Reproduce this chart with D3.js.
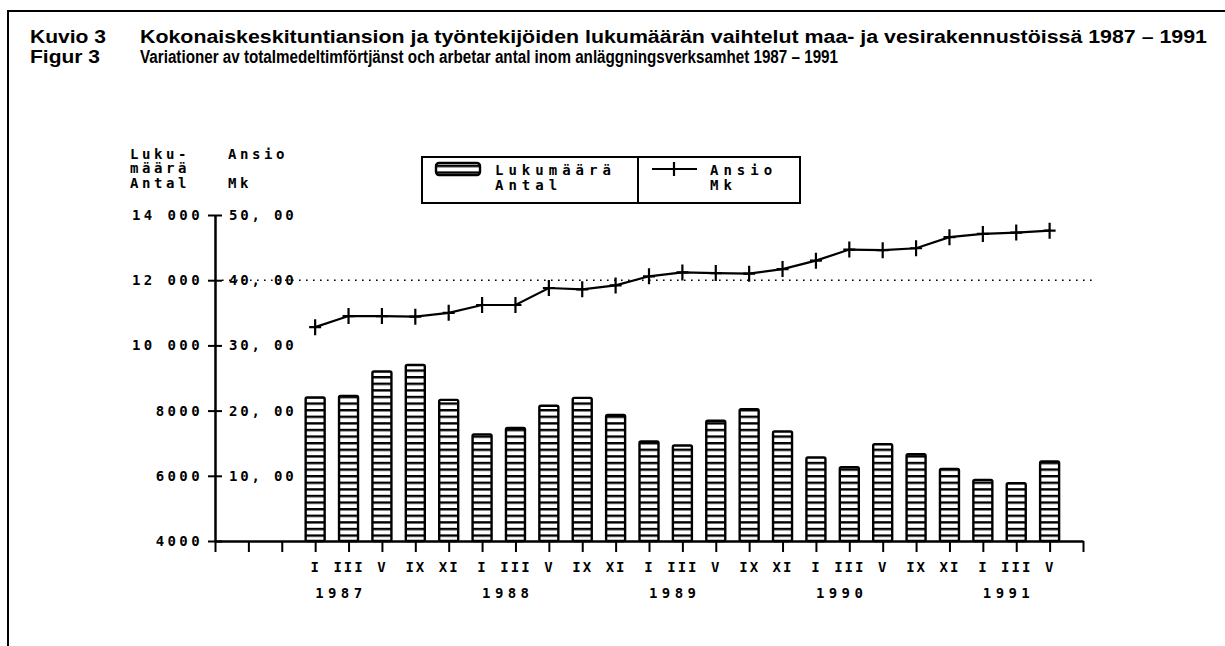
<!DOCTYPE html>
<html><head><meta charset="utf-8">
<script src="https://cdn.jsdelivr.net/npm/d3@7"></script>
<style>body{margin:0;background:#fff;overflow:hidden}</style>
</head><body>
<script>
// ---- data ----
const periods = ["I","III","V","IX","XI","I","III","V","IX","XI","I","III","V","IX","XI","I","III","V","IX","XI","I","III","V"];
const years = ["1987","1988","1989","1990","1991"];
const lukumaara = [8400,8450,9200,9400,8330,7270,7470,8150,8390,7870,7050,6930,7690,8040,7360,6560,6260,6970,6660,6210,5870,5770,6440];
const ansio = [32.8,34.5,34.5,34.4,35.0,36.2,36.2,38.8,38.6,39.2,40.6,41.2,41.1,41.0,41.7,43.0,44.7,44.6,44.9,46.6,47.1,47.3,47.6];
const leftTicks = [4000,6000,8000,10000,12000,14000];
const leftTickLabels = ["4000","6000","8000","10 000","12 000","14 000"];
const rightTicks = [0,10,20,30,40,50];
const rightTickLabels = ["","10, 00","20, 00","30, 00","40, 00","50, 00"];
const titleFi = "Kokonaiskeskituntiansion ja työntekijöiden lukumäärän vaihtelut maa- ja vesirakennustöissä 1987 – 1991";
const titleSv = "Variationer av totalmedeltimförtjänst och arbetar antal inom anläggningsverksamhet 1987 – 1991";

const W = 1225, H = 646;
const mono = "'DejaVu Sans Mono', 'Liberation Mono', monospace";
const svg = d3.select("body").append("svg").attr("width", W).attr("height", H);

// frame
svg.append("path").attr("d", `M8,${H}V11H${W}`).attr("fill","none").attr("stroke","#000").attr("stroke-width",2);

// titles
const tf = "'Liberation Sans Narrow','Liberation Sans', Arial, sans-serif";
function tline(txt, x, y, len){
  const t = svg.append("text").attr("x",x).attr("y",y).text(txt)
    .attr("font-family",tf).attr("font-weight","bold").attr("font-size",18);
  if (len) t.attr("textLength",len).attr("lengthAdjust","spacingAndGlyphs");
}
tline("Kuvio 3", 30, 43, 76);
tline(titleFi, 140, 43, 1067);
tline("Figur 3", 30, 63, 70);
tline(titleSv, 140, 63, 698);

// scales
const keys = ["b0","b1","b2"].concat(periods.map((p,i)=>"p"+i)).concat(["end"]);
const x = d3.scalePoint().domain(keys).range([215, 1083]);
const y = d3.scaleLinear().domain([4000,14000]).range([541, 215]);
const y2 = d3.scaleLinear().domain([0,50]).range([541, 215]);

// hatch pattern
const defs = svg.append("defs");
const pat = defs.append("pattern").attr("id","hatch").attr("patternUnits","userSpaceOnUse")
  .attr("width",40).attr("height",6.6).attr("y",541);
pat.append("rect").attr("width",40).attr("height",6.6).attr("fill","#fff");
pat.append("rect").attr("y",0).attr("width",40).attr("height",2.4).attr("fill","#000");

// dotted reference line at 12 000
svg.append("line").attr("x1",222).attr("x2",1092).attr("y1",y(12000)).attr("y2",y(12000))
  .attr("stroke","#000").attr("stroke-width",1.6).attr("stroke-dasharray","1.6 5.4");

// bars
const bw = 19;
svg.append("g").selectAll("rect").data(lukumaara).join("rect")
  .attr("x",(d,i)=>x("p"+i)-bw/2).attr("width",bw)
  .attr("y",d=>y(d)).attr("height",d=>y(4000)-y(d))
  .attr("rx",1.5)
  .attr("fill","url(#hatch)").attr("stroke","#000").attr("stroke-width",2.4);

// left axis (ticks to the left)
const gl = svg.append("g").attr("transform","translate(215,0)")
  .call(d3.axisLeft(y).tickValues(leftTicks).tickSizeInner(7).tickSizeOuter(0).tickPadding(5)
    .tickFormat((d,i)=>leftTickLabels[i]));
gl.select(".domain").attr("stroke-width",2.5);
gl.selectAll(".tick line").attr("stroke-width",2);
gl.selectAll("text").attr("font-family",mono).attr("font-weight","bold").attr("font-size",14)
  .attr("letter-spacing","3.4px").attr("fill","#000");

// right labels (Ansio) on same axis line
const gr = svg.append("g").attr("transform","translate(215,0)")
  .call(d3.axisRight(y2).tickValues(rightTicks).tickSizeInner(7).tickSizeOuter(0).tickPadding(7)
    .tickFormat((d,i)=>rightTickLabels[i]));
gr.select(".domain").remove();
gr.selectAll(".tick line").attr("stroke-width",2);
gr.selectAll("text").attr("font-family",mono).attr("font-weight","bold").attr("font-size",14)
  .attr("letter-spacing","2.8px").attr("fill","#000");

// x axis
const gx = svg.append("g").attr("transform","translate(0,541)")
  .call(d3.axisBottom(x).tickSizeInner(11).tickSizeOuter(0).tickPadding(10)
    .tickFormat(k => k.startsWith("p") ? periods[+k.slice(1)] : ""));
gx.select(".domain").attr("stroke-width",2.5);
gx.selectAll(".tick line").attr("stroke-width",2);
gx.selectAll("text").attr("font-family",mono).attr("font-weight","bold").attr("font-size",14)
  .attr("letter-spacing","2px").attr("fill","#000");

// year labels
const yearStart = periods.map((p,i)=>p==="I"?i:-1).filter(i=>i>=0);
svg.append("g").selectAll("text").data(years).join("text")
  .attr("x",(d,i)=>x("p"+yearStart[i])).attr("y",598).text(d=>d)
  .attr("font-family",mono).attr("font-weight","bold").attr("font-size",14)
  .attr("letter-spacing","4.4px");

// line + markers
const line = d3.line().x((d,i)=>x("p"+i)).y(d=>y2(d));
svg.append("path").datum(ansio).attr("d",line).attr("fill","none").attr("stroke","#000").attr("stroke-width",2.2);
svg.append("g").selectAll("path").data(ansio).join("path")
  .attr("d",(d,i)=>{const cx=x("p"+i), cy=y2(d); return `M${cx},${cy-8}V${cy+8}M${cx-6},${cy}H${cx+6}`;})
  .attr("stroke","#000").attr("stroke-width",2.2);

// axis header labels
function lab(txt, xx, yy, ls){
  svg.append("text").attr("x",xx).attr("y",yy).text(txt)
    .attr("font-family",mono).attr("font-weight","bold").attr("font-size",14)
    .attr("letter-spacing",(ls||3.6)+"px");
}
lab("Luku-",130,159);
lab("määrä",130,173);
lab("Antal",130,188);
lab("Ansio",228,159);
lab("Mk",228,188);

// legend
svg.append("rect").attr("x",422).attr("y",157).attr("width",378).attr("height",46)
  .attr("fill","#fff").attr("stroke","#000").attr("stroke-width",2);
svg.append("line").attr("x1",638).attr("x2",638).attr("y1",157).attr("y2",203)
  .attr("stroke","#000").attr("stroke-width",2);
svg.append("rect").attr("x",436).attr("y",163).attr("width",44).attr("height",12).attr("rx",3)
  .attr("fill","url(#hatch)").attr("stroke","#000").attr("stroke-width",2.4);
svg.append("path").attr("d","M652,169H697M674,162V176").attr("stroke","#000").attr("stroke-width",2.2);
function leg(txt, xx, yy){
  svg.append("text").attr("x",xx).attr("y",yy).text(txt)
    .attr("font-family",mono).attr("font-size",14).attr("font-weight","bold")
    .attr("letter-spacing","5px");
}
leg("Lukumäärä",495,175);
leg("Antal",495,190);
leg("Ansio",710,175);
leg("Mk",710,190);
</script>
</body></html>
